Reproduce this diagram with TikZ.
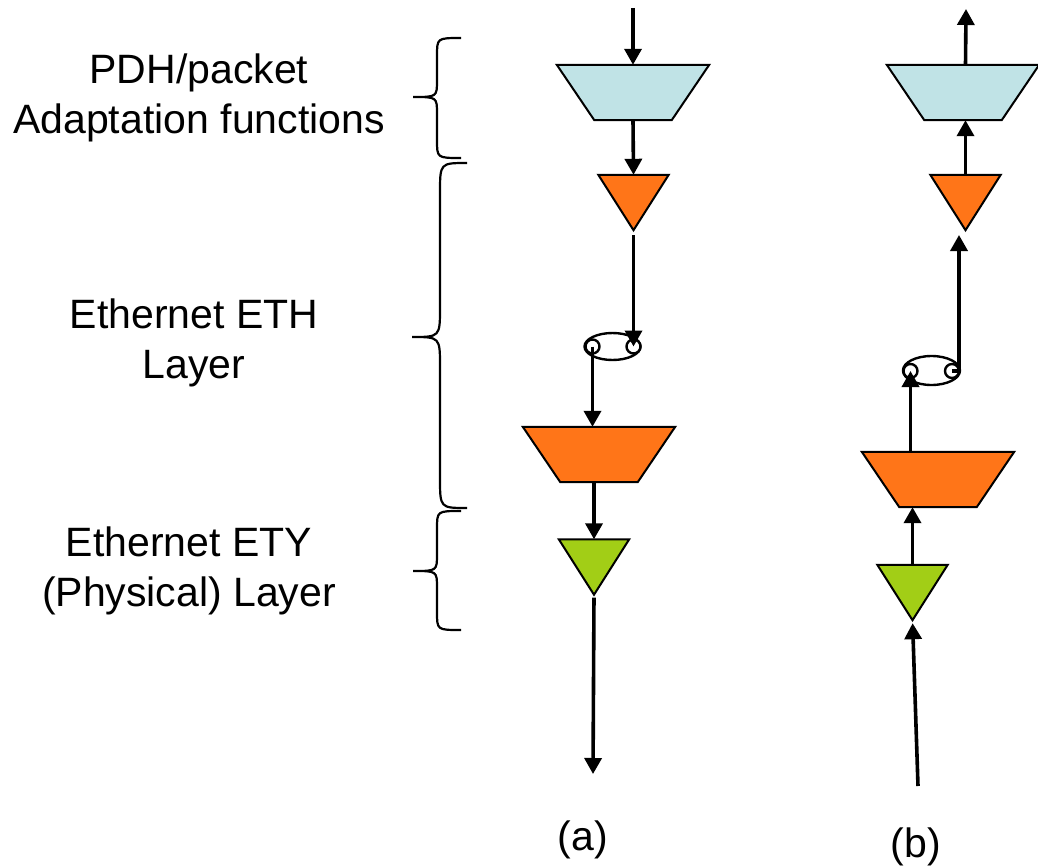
\documentclass[tikz,border=0pt]{standalone}
\usepackage{fontspec}
\setmainfont{Liberation Sans}
\usetikzlibrary{shapes.geometric,arrows.meta}

\definecolor{adaptblue}{RGB}{192,227,230}
\definecolor{ethorange}{RGB}{255,117,24}
\definecolor{etygreen}{RGB}{162,206,22}

\tikzset{
  lbl/.style={font=\fontsize{41}{50}\selectfont, align=center, inner sep=0pt},
  % invisible frames; the outlines are drawn from their anchors
  trapframe/.style={rectangle, minimum width=152pt, minimum height=55pt, inner sep=0pt},
  triframe/.style={rectangle, minimum width=70pt, minimum height=55pt, inner sep=0pt},
  shapeline/.style={draw=black, line width=2pt, line join=miter},
  arr/.style={line width=3.6pt, -{Triangle[length=16pt,width=17pt]}},
  plain/.style={line width=3.6pt},
  loopring/.style={ellipse, draw=black, line width=2.4pt, inner sep=0pt},
  port/.style={circle, draw=black, line width=2.4pt, fill=white,
    minimum size=14pt, inner sep=0pt},
  brace/.style={line width=2.2pt}
}

% downward trapezium inside a frame node, and a downward triangle
\newcommand\trapfill[2]{\filldraw[shapeline, fill=#2] (#1.north west) -- (#1.north east)
  -- ([xshift=-37.5pt]#1.south east) -- ([xshift=37.5pt]#1.south west) -- cycle;}
\newcommand\trifill[2]{\filldraw[shapeline, fill=#2] (#1.north west) -- (#1.north east)
  -- (#1.south) -- cycle;}

\begin{document}
\begin{tikzpicture}[x=1pt, y=-1pt]
\path[use as bounding box] (0,0) rectangle (1038,867);

% layer labels
\node[lbl] (t-adapt) at (199,98) {PDH/packet\\Adaptation functions};
\node[lbl] (t-eth) at (194,343) {Ethernet ETH\\Layer};
\node[lbl] (t-ety) at (189,571) {Ethernet ETY\\(Physical) Layer};

% braces
\draw[brace] (461,38) .. controls (437,38) .. (437,56) -- (437,80)
  .. controls (437,97) .. (413,97) .. controls (437,97) .. (437,114)
  -- (437,140) .. controls (437,158) .. (461,158);
\draw[brace] (467,163) .. controls (440,163) .. (440,193) -- (440,307)
  .. controls (440,337) .. (412,337) .. controls (440,337) .. (440,367)
  -- (440,478) .. controls (440,508) .. (467,508);
\draw[brace] (461,511) .. controls (437,511) .. (437,529) -- (437,554)
  .. controls (437,571) .. (413,571) .. controls (437,571) .. (437,588)
  -- (437,612) .. controls (437,630) .. (461,630);

% column (a): downstream
\node[trapframe] (a-blue) at (633,92.5) {};
\node[triframe] (a-tri) at (633.5,202.5) {};
\node[trapframe] (a-big) at (599,454.5) {};
\node[triframe] (a-grn) at (594,567) {};
\trapfill{a-blue}{adaptblue}
\trifill{a-tri}{ethorange}
\trapfill{a-big}{ethorange}
\trifill{a-grn}{etygreen}
\node[loopring, minimum width=56pt, minimum height=27pt] (a-ring) at (612.5,346.5) {};
\node[port] (a-cl) at (592.5,346.5) {};
\node[port] (a-cr) at (633.5,346.5) {};
\coordinate (a-in) at (633,8);
\coordinate (a-out) at (593,774);

\draw[arr] (a-in) -- (a-blue.north);
\draw[arr] (a-blue.south) -- (a-tri.north);
\draw[arr, shorten <=5pt] (a-tri.south) -- (a-cr.center);
\draw[arr] (a-cl.center) -- (a-cl.center |- a-big.north);
\draw[arr] (a-grn.north |- a-big.south) -- (a-grn.north);
\draw[arr, shorten <=3pt] (a-grn.south) -- (a-out);

% column (b): upstream
\node[trapframe] (b-blue) at (963,92.5) {};
\node[triframe] (b-tri) at (965.5,202.5) {};
\node[trapframe] (b-big) at (938,479.5) {};
\node[triframe] (b-grn) at (912.5,592.5) {};
\trapfill{b-blue}{adaptblue}
\trifill{b-tri}{ethorange}
\trapfill{b-big}{ethorange}
\trifill{b-grn}{etygreen}
\node[loopring, minimum width=57pt, minimum height=29pt] (b-ring) at (931.5,370.5) {};
\node[port] (b-cl) at (910.5,371) {};
\node[port] (b-cr) at (952,371) {};
\coordinate (b-out) at (966,9);
\coordinate (b-in) at (918,786);
\coordinate (b-up) at (959,235);

\draw[arr] (b-blue.north -| b-tri.north) -- (b-out);
\draw[arr] (b-tri.north) -- (b-tri.north |- b-blue.south);
\draw[plain] (b-cr.center) -- (b-cr.center -| b-up);
\draw[arr] (b-cr.center -| b-up) -- (b-up);
\draw[arr] (b-cl.center |- b-big.north) -- (b-cl.center);
\draw[arr] (b-grn.north) -- (b-grn.north |- b-big.south);
\draw[arr, shorten >=3pt] (b-in) -- (b-grn.south);

% column captions
\node[lbl] (cap-a) at (583,840) {(a)};
\node[lbl] (cap-b) at (916,847) {(b)};
\end{tikzpicture}
\end{document}
